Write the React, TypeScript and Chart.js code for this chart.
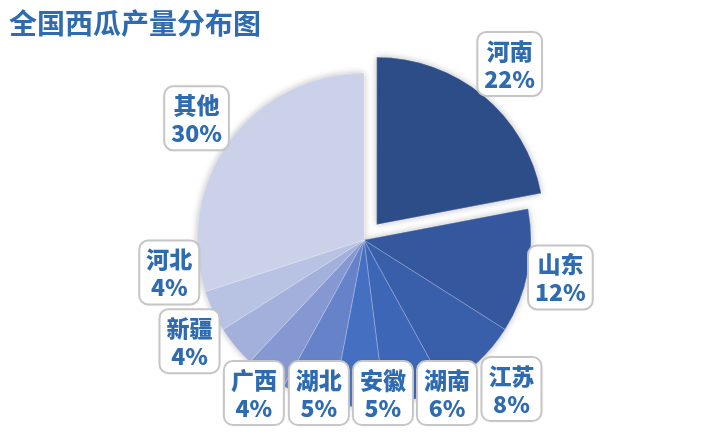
import React, { useEffect, useRef } from "react";
import { Chart, registerables } from "chart.js";

Chart.register(...registerables);

const titleText = "全国西瓜产量分布图";
const categories = ["河南", "山东", "江苏", "湖南", "安徽", "湖北", "广西", "新疆", "河北", "其他"];
const shares = [22, 12, 8, 6, 5, 5, 4, 4, 4, 30];
const sliceColors = [
  "#2D4D88",
  "#34579D",
  "#395FAB",
  "#3E66B7",
  "#4570C2",
  "#6683CA",
  "#8698D2",
  "#A3B0DC",
  "#B8C2E3",
  "#CBD1E8",
];
// Chart.js draws an arc's offset at one quarter of this value
const explodeOffsets = [80, 0, 0, 0, 0, 0, 0, 0, 0, 0];

const TEXT_COLOR = "#2E6BB0";
const LABEL_FONT = '900 23px "Noto Sans CJK SC", "Noto Sans", sans-serif';

const shadowPlugin = {
  id: "pieShadow",
  beforeDatasetsDraw(chart: any) {
    const ctx = chart.ctx;
    const meta = chart.getDatasetMeta(0);
    ctx.save();
    ctx.shadowColor = "rgba(0,0,0,0.28)";
    ctx.shadowBlur = 7;
    meta.data.forEach((a: any) => a.draw(ctx));
    ctx.restore();
  },
};

const labelPlugin = {
  id: "boxLabels",
  afterDatasetsDraw(chart: any) {
    const ctx = chart.ctx;
    const meta = chart.getDatasetMeta(0);
    const W = chart.width;
    const H = chart.height;
    const gap = 4;
    ctx.save();
    ctx.font = LABEL_FONT;
    const items = meta.data.map((arc: any, i: number) => {
      const p = arc.getProps(["x", "y", "startAngle", "endAngle", "outerRadius"], true);
      const off = (arc.options.offset || 0) / 4;
      const name = categories[i];
      const pct = shares[i] + "%";
      const w = Math.max(ctx.measureText(name).width, ctx.measureText(pct).width) + 14;
      const h = 64;
      return { x0: p.x, y0: p.y, r: p.outerRadius, off, ang: (p.startAngle + p.endAngle) / 2, w, h, name, pct, cx: 0, cy: 0 };
    });
    const place = (b: any) => {
      const dx = Math.cos(b.ang);
      const dy = Math.sin(b.ang);
      const ex = Math.abs(dx) > 1e-6 ? b.w / 2 / Math.abs(dx) : 1e9;
      const ey = Math.abs(dy) > 1e-6 ? b.h / 2 / Math.abs(dy) : 1e9;
      const dist = b.r + Math.min(ex, ey) + b.off;
      b.cx = b.x0 + dx * dist;
      b.cy = b.y0 + dy * dist;
      b.cx = Math.min(Math.max(b.cx, b.w / 2 + 4), W - b.w / 2 - 4);
      b.cy = Math.min(Math.max(b.cy, b.h / 2 + 4), H - b.h / 2 - 7);
    };
    const overlaps = (a: any, b: any) =>
      (a.w + b.w) / 2 + gap - Math.abs(a.cx - b.cx) > 0 && (a.h + b.h) / 2 + gap - Math.abs(a.cy - b.cy) > 0;
    items.forEach(place);
    const step = (0.25 * Math.PI) / 180;
    for (let it = 0; it < 2000; it++) {
      let moved = false;
      for (let i = 0; i < items.length; i++) {
        const a = items[i];
        const b = items[(i + 1) % items.length];
        if (overlaps(a, b)) {
          moved = true;
          a.ang -= step;
          b.ang += step;
          place(a);
          place(b);
        }
      }
      if (!moved) break;
    }
    items.forEach((b: any) => {
      const x = b.cx - b.w / 2;
      const y = b.cy - b.h / 2;
      ctx.save();
      ctx.shadowColor = "rgba(0,0,0,0.12)";
      ctx.shadowBlur = 3;
      ctx.beginPath();
      ctx.roundRect(x, y, b.w, b.h, 9);
      ctx.fillStyle = "#FFFFFF";
      ctx.fill();
      ctx.restore();
      ctx.beginPath();
      ctx.roundRect(x, y, b.w, b.h, 9);
      ctx.lineWidth = 2;
      ctx.strokeStyle = "#C6C6C6";
      ctx.stroke();
      ctx.fillStyle = TEXT_COLOR;
      ctx.textAlign = "center";
      ctx.textBaseline = "middle";
      ctx.font = LABEL_FONT;
      ctx.fillText(b.name, b.cx, b.cy - 13);
      ctx.fillText(b.pct, b.cx, b.cy + 15);
    });
    ctx.restore();
  },
};

const titlePlugin = {
  id: "leftTitle",
  afterDraw(chart: any) {
    const ctx = chart.ctx;
    ctx.save();
    ctx.font = 'bold 28px "Noto Sans CJK SC", sans-serif';
    ctx.fillStyle = TEXT_COLOR;
    ctx.textAlign = "left";
    ctx.textBaseline = "middle";
    ctx.fillText(titleText, 9, 23);
    ctx.restore();
  },
};

export default function App() {
  const ref = useRef<HTMLCanvasElement | null>(null);
  useEffect(() => {
    if (!ref.current) return;
    const chart = new Chart(ref.current, {
      type: "pie",
      data: {
        labels: categories,
        datasets: [
          {
            data: shares,
            backgroundColor: sliceColors,
            borderColor: "rgba(255,255,255,0.25)",
            borderWidth: 1,
            offset: explodeOffsets,
            radius: 167,
          } as any,
        ],
      },
      options: {
        responsive: false,
        animation: false,
        events: [],
        layout: { padding: { left: 8, right: 0, top: 48, bottom: 0 } },
        plugins: {
          legend: { display: false },
          tooltip: { enabled: false },
          title: { display: false },
        },
      },
      plugins: [shadowPlugin, labelPlugin, titlePlugin],
    });
    return () => chart.destroy();
  }, []);
  return (
    <div style={{ position: "absolute", left: 0, top: 0, width: 720, height: 432, background: "#FFFFFF" }}>
      <canvas ref={ref} width={720} height={432} />
    </div>
  );
}
